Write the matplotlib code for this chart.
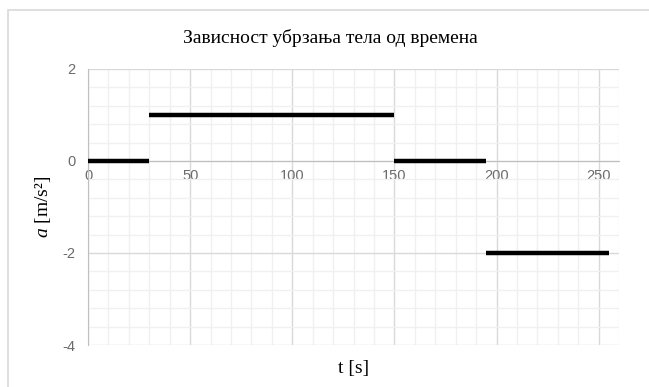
import matplotlib.pyplot as plt
from matplotlib.ticker import MultipleLocator
from matplotlib.patches import Rectangle

plt.rcParams['axes.unicode_minus'] = False
plt.rcParams['mathtext.fontset'] = 'custom'
plt.rcParams['mathtext.rm'] = 'Liberation Serif'
plt.rcParams['mathtext.it'] = 'Liberation Serif:italic'

# piecewise acceleration: (t_start, t_end, a)
t_start = [0, 30, 150, 195]
t_end = [30, 150, 195, 255]
accel = [0, 1, 0, -2]

x_ticks = [0, 50, 100, 150, 200, 250]
y_ticks = [-4, -2, 0, 2]

fig = plt.figure(figsize=(6.49, 3.87), dpi=100)
ax = fig.add_axes([0.1356, 0.1085, 0.8184, 0.7135])

ax.set_xlim(0, 260)
ax.set_ylim(-4, 2)
ax.xaxis.set_minor_locator(MultipleLocator(10))
ax.yaxis.set_minor_locator(MultipleLocator(0.4))
ax.set_xticks(x_ticks)
ax.set_yticks(y_ticks)

ax.grid(which='major', color='#d9d9d9', linewidth=1.0)
ax.grid(which='minor', color='#f0f0f0', linewidth=1.0)
ax.set_axisbelow(True)

for s in ['top', 'right']:
    ax.spines[s].set_visible(False)
ax.spines['bottom'].set_position(('data', 0))
ax.spines['bottom'].set_color('#bfbfbf')
ax.spines['left'].set_color('#bfbfbf')
ax.tick_params(which='both', length=0, labelsize=10.5, labelcolor='#6b6b6b')
ax.tick_params(axis='x', pad=6)
ax.tick_params(axis='y', pad=9)
for lab in ax.get_xticklabels() + ax.get_yticklabels():
    lab.set_family('Liberation Sans')

ax.hlines(accel, t_start, t_end, colors='black', linewidth=3.2, zorder=3)

fig.text(0.509, 0.902, 'Зависност убрзања тела од времена', family='Liberation Serif',
         fontsize=14, ha='center', va='center')
ax.set_xlabel('t [s]', family='Liberation Serif', fontsize=14)
ax.xaxis.set_label_coords(0.5, -0.055)
ax.set_ylabel(r'$a$ [m/s²]', family='Liberation Serif', fontsize=14)
ax.yaxis.set_label_coords(-0.065, 0.5)

fig.patches.append(Rectangle((0.0125, -0.05), 1.05, 1.023, transform=fig.transFigure,
                             fill=False, edgecolor='#d9d9d9', linewidth=1.2))

fig.savefig('out.png', dpi=100)
